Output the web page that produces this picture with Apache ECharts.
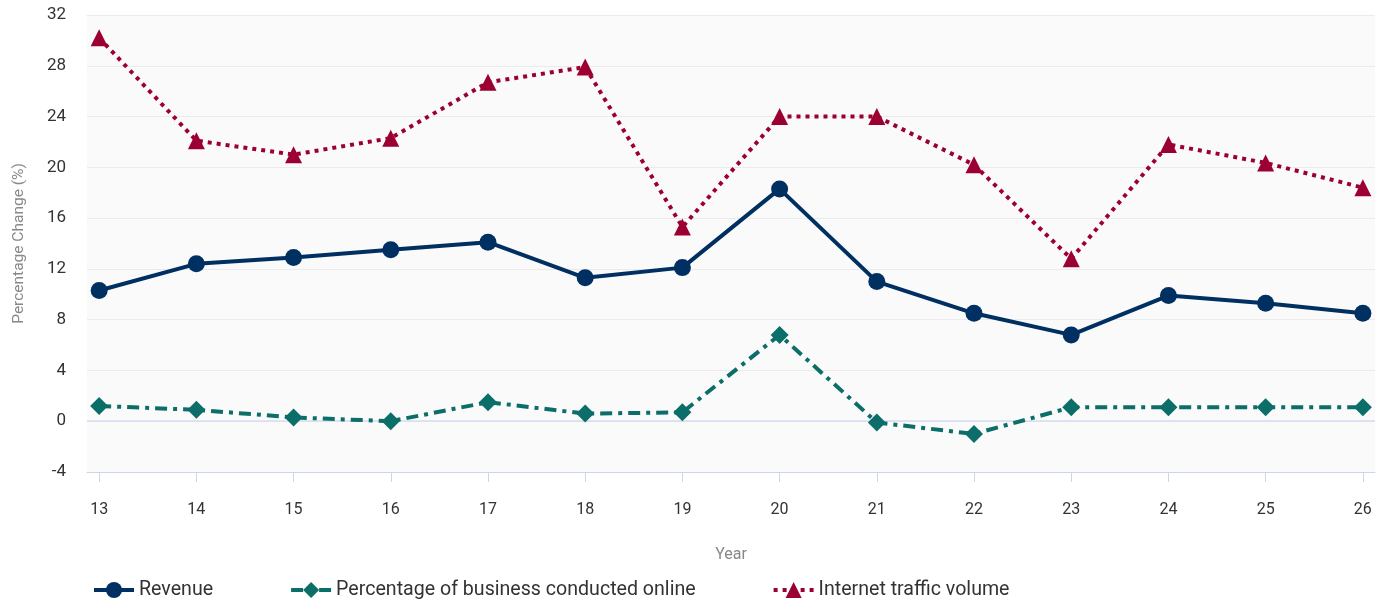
<!DOCTYPE html>
<html>
<head>
<meta charset="utf-8">
<title>Percentage Change by Year</title>
<script src="https://cdn.jsdelivr.net/npm/echarts@6/dist/echarts.min.js"></script>
<style>
  html, body { margin: 0; padding: 0; background: #ffffff; }
  #chart { width: 1385px; height: 601px; }
</style>
</head>
<body>
<div id="chart"></div>
<script>
// Year labels along the horizontal axis
const years = [13, 14, 15, 16, 17, 18, 19, 20, 21, 22, 23, 24, 25, 26];

// Series values (percentage change)
const revenue = [10.3, 12.4, 12.9, 13.5, 14.1, 11.3, 12.1, 18.3, 11.0, 8.5, 6.8, 9.9, 9.3, 8.5];
const onlineShare = [1.2, 0.9, 0.3, 0.0, 1.5, 0.6, 0.7, 6.8, -0.1, -1.0, 1.1, 1.1, 1.1, 1.1];
const trafficVolume = [30.2, 22.1, 21.0, 22.3, 26.7, 27.9, 15.3, 24.0, 24.0, 20.2, 12.8, 21.8, 20.35, 18.4];

// Value axis ticks
const yTicks = [-4, 0, 4, 8, 12, 16, 20, 24, 28, 32];

const pairs = vals => years.map((y, i) => [y, vals[i]]);

const chart = echarts.init(document.getElementById('chart'), null, { renderer: 'canvas' });

const font = 'Roboto, "Noto Sans", sans-serif';

chart.setOption({
  animation: false,
  backgroundColor: '#ffffff',
  textStyle: { fontFamily: font },
  grid: {
    left: 87, right: 10, top: 15, bottom: 129,
    show: true, backgroundColor: '#fafafa', borderWidth: 0
  },
  legend: {
    top: 575, left: 87,
    itemWidth: 40, itemHeight: 20, itemGap: 76,
    lineStyle: { width: 4 },
    textStyle: { color: '#333333', fontSize: 19.6, fontFamily: font },
    data: ['Revenue', 'Percentage of business conducted online', 'Internet traffic volume']
  },
  xAxis: {
    type: 'value',
    min: years[0] - 0.125,
    max: years[years.length - 1] + 0.125,
    name: 'Year',
    nameLocation: 'middle',
    nameGap: 75,
    nameTextStyle: { color: '#888888', fontSize: 16, fontFamily: font },
    axisLine: { show: true, onZero: false, lineStyle: { color: '#ccd6eb', width: 1 } },
    axisTick: { show: true, length: 10, customValues: years, lineStyle: { color: '#ccd6eb' } },
    axisLabel: {
      customValues: years, color: '#333333', fontSize: 16, margin: 30, fontFamily: font,
      formatter: v => String(Math.round(v))
    },
    splitLine: { show: false }
  },
  yAxis: {
    type: 'value',
    min: yTicks[0], max: yTicks[yTicks.length - 1], interval: 4,
    name: 'Percentage Change (%)',
    nameLocation: 'middle',
    nameGap: 60,
    nameTextStyle: { color: '#888888', fontSize: 15.5, fontFamily: font },
    axisLine: { show: false },
    axisTick: { show: false },
    axisLabel: { color: '#333333', fontSize: 17, margin: 21, fontFamily: font },
    splitLine: { show: true, lineStyle: { color: '#ebebeb', width: 1 } }
  },
  series: [
    {
      name: 'Revenue',
      type: 'line',
      data: pairs(revenue),
      color: '#002f61',
      symbol: 'circle', symbolSize: 17,
      lineStyle: { width: 4, color: '#002f61' },
      itemStyle: { color: '#002f61' },
      z: 3,
      markLine: {
        silent: true, symbol: 'none', label: { show: false },
        lineStyle: { color: '#d5dcee', width: 1.5, type: 'solid' },
        data: [{ yAxis: 0 }],
        z: 1
      }
    },
    {
      name: 'Percentage of business conducted online',
      type: 'line',
      data: pairs(onlineShare),
      color: '#0b6e69',
      symbol: 'diamond', symbolSize: 18,
      lineStyle: { width: 4, color: '#0b6e69', type: [12, 6, 4, 6] },
      itemStyle: { color: '#0b6e69' },
      z: 3
    },
    {
      name: 'Internet traffic volume',
      type: 'line',
      data: pairs(trafficVolume),
      color: '#9c0033',
      symbol: 'triangle', symbolSize: 17,
      lineStyle: { width: 4, color: '#9c0033', type: [4, 5] },
      itemStyle: { color: '#9c0033' },
      z: 3
    }
  ]
});
</script>
</body>
</html>
